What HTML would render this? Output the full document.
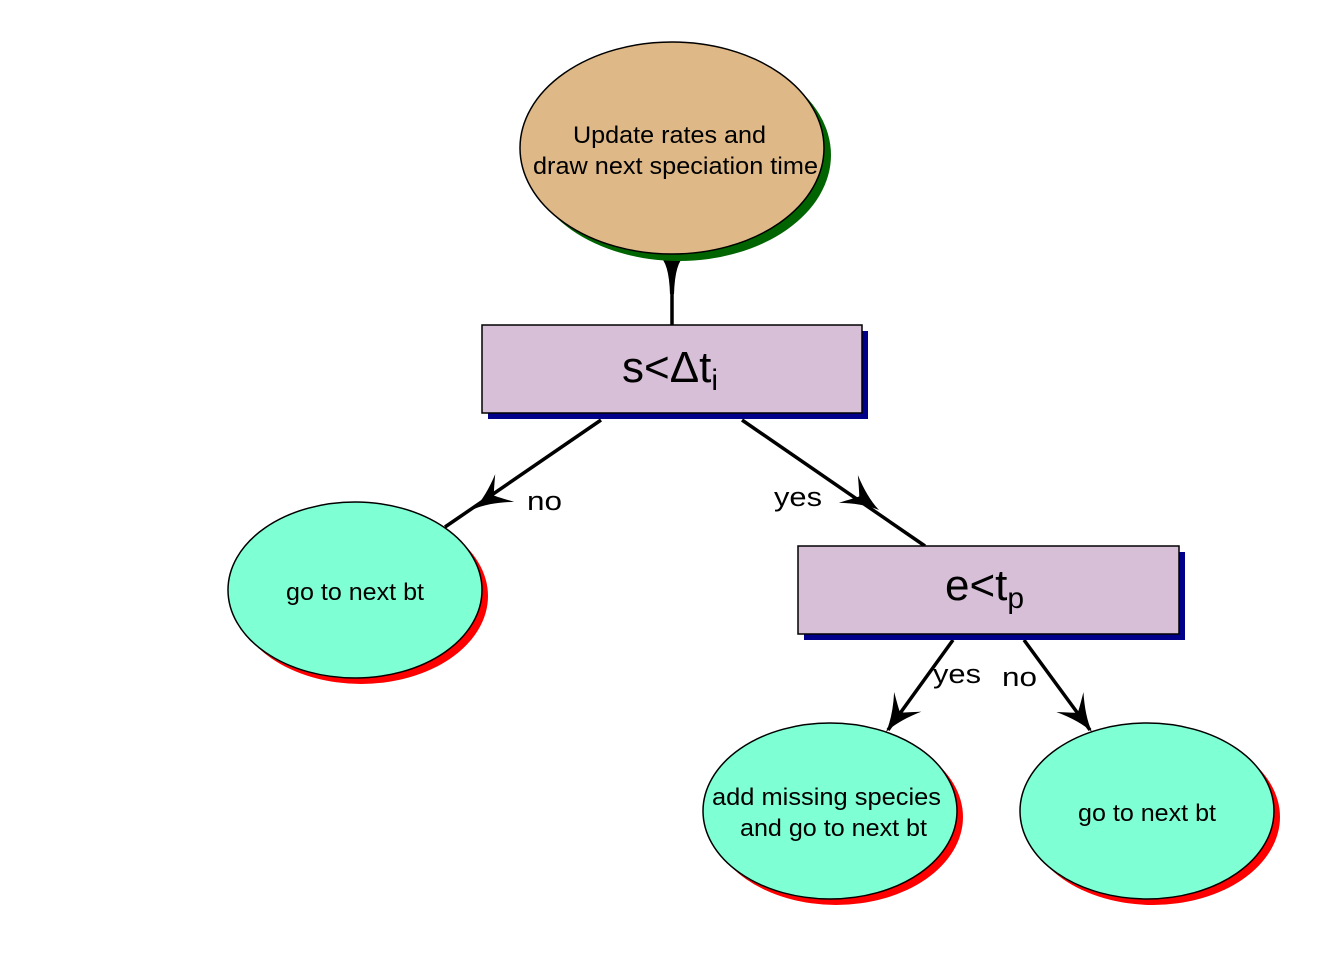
<!DOCTYPE html>
<html><head><meta charset="utf-8"><style>html,body{margin:0;padding:0;background:#fff}svg{display:block}</style></head>
<body>
<svg width="1344" height="960" viewBox="0 0 1344 960" xmlns="http://www.w3.org/2000/svg" font-family="'Liberation Sans', Arial, sans-serif">
<defs>
<path id="ah" d="M0,0 Q-14,-3 -31,-14 Q-22,-3 -20,0 Q-22,3 -31,14 Q-14,3 0,0 Z" fill="#000"/>
</defs>
<g stroke="#000" stroke-width="3.5" fill="none">
<line x1="672" y1="325" x2="672" y2="250"/>
<line x1="601" y1="420" x2="445" y2="527"/>
<line x1="742" y1="420" x2="925" y2="546"/>
<line x1="953" y1="640" x2="888" y2="730"/>
<line x1="1024" y1="640" x2="1090" y2="730"/>
</g>
<path d="M659,256 Q669,262 670,294 L674,294 Q675,262 685,256 Z" fill="#000"/>
<use href="#ah" transform="translate(474,509) rotate(145.6) scale(1.2)"/>
<use href="#ah" transform="translate(879,510) rotate(34.5) scale(1.2)"/>
<use href="#ah" transform="translate(886,732) rotate(125.8) scale(1.2)"/>
<use href="#ah" transform="translate(1092,732) rotate(53.6) scale(1.2)"/>

<ellipse cx="679" cy="155" rx="152" ry="106" fill="#006400"/>
<ellipse cx="672" cy="148" rx="152" ry="106" fill="#DEB887" stroke="#000" stroke-width="1.5"/>
<text x="573" y="143" font-size="24" textLength="193" lengthAdjust="spacingAndGlyphs">Update rates and</text>
<text x="533" y="174" font-size="24" textLength="285" lengthAdjust="spacingAndGlyphs">draw next speciation time</text>

<rect x="488" y="331" width="380" height="88" fill="#00008B"/>
<rect x="482" y="325" width="380" height="88" fill="#D8BFD8" stroke="#000" stroke-width="1.5"/>
<text x="622" y="382" font-size="44">s&lt;Δt<tspan font-size="30" dy="8">i</tspan></text>

<rect x="804" y="552" width="381" height="88" fill="#00008B"/>
<rect x="798" y="546" width="381" height="88" fill="#D8BFD8" stroke="#000" stroke-width="1.5"/>
<text x="945" y="600" font-size="44">e&lt;t<tspan font-size="30" dy="8">p</tspan></text>

<ellipse cx="361" cy="596" rx="127" ry="88" fill="#f00"/>
<ellipse cx="355" cy="590" rx="127" ry="88" fill="#7FFFD4" stroke="#000" stroke-width="1.5"/>
<text x="286" y="600" font-size="24" textLength="138" lengthAdjust="spacingAndGlyphs">go to next bt</text>

<ellipse cx="836" cy="817" rx="127" ry="88" fill="#f00"/>
<ellipse cx="830" cy="811" rx="127" ry="88" fill="#7FFFD4" stroke="#000" stroke-width="1.5"/>
<text x="712" y="805" font-size="24" textLength="229" lengthAdjust="spacingAndGlyphs">add missing species</text>
<text x="740" y="836" font-size="24" textLength="187" lengthAdjust="spacingAndGlyphs">and go to next bt</text>

<ellipse cx="1153" cy="817" rx="127" ry="88" fill="#f00"/>
<ellipse cx="1147" cy="811" rx="127" ry="88" fill="#7FFFD4" stroke="#000" stroke-width="1.5"/>
<text x="1078" y="821" font-size="24" textLength="138" lengthAdjust="spacingAndGlyphs">go to next bt</text>

<text x="527" y="510" font-size="27" textLength="35" lengthAdjust="spacingAndGlyphs">no</text>
<text x="774" y="506" font-size="27" textLength="48" lengthAdjust="spacingAndGlyphs">yes</text>
<text x="933" y="683" font-size="27" textLength="48" lengthAdjust="spacingAndGlyphs">yes</text>
<text x="1002" y="686" font-size="27" textLength="35" lengthAdjust="spacingAndGlyphs">no</text>
</svg>
</body></html>
